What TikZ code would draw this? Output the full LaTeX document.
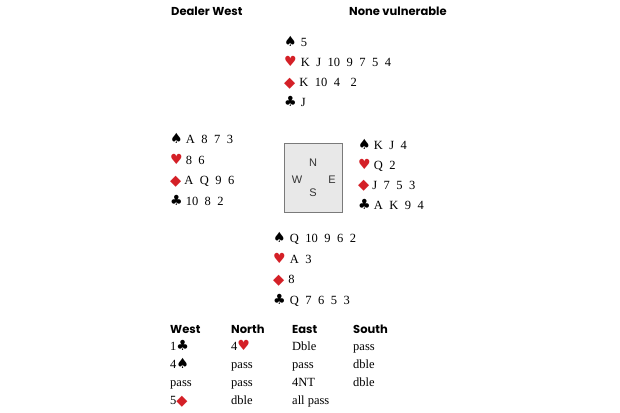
\documentclass[tikz,border=0pt]{standalone}
\usepackage{fontspec}
\setmainfont{Liberation Serif}
\newfontfamily\headfont{Poppins}
\newfontfamily\suitfont{DejaVu Sans}
\newfontfamily\dirfont{Liberation Sans}

\definecolor{suitred}{HTML}{D42027}
\definecolor{boxgray}{HTML}{E8E8E8}
\definecolor{boxline}{HTML}{7A7A7A}

\newcommand{\suitS}{{\suitfont\fontsize{14}{14}\selectfont ♠}}
\newcommand{\suitH}{{\suitfont\fontsize{14}{14}\selectfont\color{suitred}♥}}
\newcommand{\suitD}{\raisebox{-0.6pt}{\suitfont\fontsize{14.5}{14}\selectfont\color{suitred}◆}}
\newcommand{\suitC}{{\suitfont\fontsize{14}{14}\selectfont ♣}}
\newcommand{\cardfont}{\fontsize{12.5}{14}\selectfont\spaceskip=0.52em\relax}

\tikzset{
  head/.style={font=\headfont\bfseries\fontsize{11.5}{13}\selectfont, anchor=base west, inner sep=0pt},
  card/.style={font=\cardfont, anchor=base west, inner sep=0pt},
  bid/.style={font=\fontsize{12.5}{14}\selectfont, anchor=base west, inner sep=0pt},
  compass/.style={draw=boxline, fill=boxgray, line width=0.9pt, minimum width=58pt, minimum height=69pt, inner sep=0pt},
  dir/.style={font=\dirfont\fontsize{11}{12}\selectfont, text=black!80, inner sep=0pt}
}

\begin{document}
\begin{tikzpicture}[x=1pt,y=-1pt]

\useasboundingbox (0,0) rectangle (620,412);

\node [head] (dealer) at (171,15.5) {Dealer West};
\node [head] (vuln) at (349,15.5) {None vulnerable};

% north
\foreach \s/\c [count=\i] in {\suitS/5, \suitH/K J 10 9 7 5 4, \suitD/K 10 4 \hspace{4pt}2, \suitC/J}
    \node [card] (n\i) at (284,26.5+20*\i) {\s\hspace{4pt}\c};

% west
\foreach \s/\c [count=\i] in {\suitS/A 8 7 3, \suitH/8 6, \suitD/A Q 9 6, \suitC/10 8 2}
    \node [card] (w\i) at (170,123+20.5*\i) {\s\hspace{3pt}\c};

% east
\foreach \s/\c [count=\i] in {\suitS/K J 4, \suitH/Q 2, \suitD/J 7 5 3, \suitC/A K 9 4}
    \node [card] (e\i) at (358,129+20*\i) {\s\hspace{3pt}\c};

% south
\foreach \s/\c [count=\i] in {\suitS/Q 10 9 6 2, \suitH/A 3, \suitD/8, \suitC/Q 7 6 5 3}
    \node [card] (s\i) at (273,222+20.5*\i) {\s\hspace{4pt}\c};

\node [compass] (table) at (313,177.5) {};
\node [dir] (dN) at (313,163) {N};
\node [dir] (dW) at (297,180) {W};
\node [dir] (dE) at (332,180) {E};
\node [dir] (dS) at (313,193) {S};

% bidding
\foreach \h/\x in {West/170, North/231, East/292, South/353}
    \node [head] (h\h) at (\x,333.5) {\h};

\node [bid] (b11) at (170,350.5) {1\suitC};
\node [bid] (b12) at (231,350.5) {4\suitH};
\node [bid] (b13) at (292,350.5) {Dble};
\node [bid] (b14) at (353,350.5) {pass};
\node [bid] (b21) at (170,368.5) {4\suitS};
\node [bid] (b22) at (231,368.5) {pass};
\node [bid] (b23) at (292,368.5) {pass};
\node [bid] (b24) at (353,368.5) {dble};
\node [bid] (b31) at (170,386.5) {pass};
\node [bid] (b32) at (231,386.5) {pass};
\node [bid] (b33) at (292,386.5) {4NT};
\node [bid] (b34) at (353,386.5) {dble};
\node [bid] (b41) at (170,404.5) {5\suitD};
\node [bid] (b42) at (231,404.5) {dble};
\node [bid] (b43) at (292,404.5) {all pass};

\end{tikzpicture}
\end{document}
